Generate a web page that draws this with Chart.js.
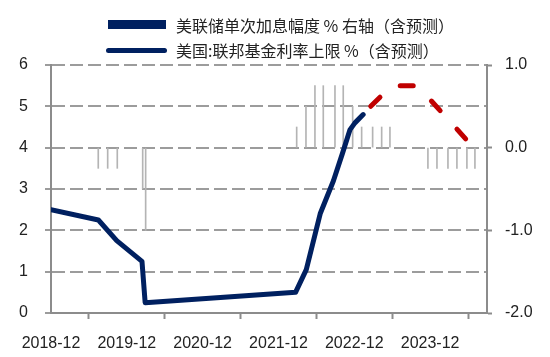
<!DOCTYPE html>
<html><head><meta charset="utf-8">
<script src="https://cdn.jsdelivr.net/npm/chart.js@4"></script>
<style>
html,body{margin:0;padding:0;background:#fff;}
#wrap{position:relative;width:550px;height:357px;overflow:hidden;}
#c{position:absolute;left:0;top:0;}
.lgt{position:absolute;left:176px;font-family:"Noto Sans CJK SC";font-size:16px;color:#222;white-space:nowrap;line-height:20px;}
.sym{position:absolute;background:#002060;}
</style></head><body>
<div id="wrap">
<canvas id="c" width="550" height="357"></canvas>
<div id="legend"></div>
</div>
<script>
// Series names
const seriesNames = ['美联储单次加息幅度 % 右轴（含预测）', '美国:联邦基金利率上限 %（含预测）'];
// x tick labels (one per 12 months, x counted in months from 2018-12)
const xTickLabels = ['2018-12','2019-12','2020-12','2021-12','2022-12','2023-12'];
// Fed funds upper bound (actual) – months from 2018-12, value %
const rateMonths = [0, 7.5, 10.4, 14.4, 14.9, 38.7, 40.4, 42.6, 44.7, 46.1, 47.3, 48.1, 49.4];
const rateValues = [2.5, 2.25, 1.75, 1.25, 0.25, 0.5, 1.05, 2.4, 3.2, 3.85, 4.43, 4.6, 4.8];
// Fed funds upper bound (forecast)
const forecastMonths = [50.6, 53.9, 58.0, 66.3];
const forecastValues = [5.0, 5.5, 5.5, 4.1];
// Single move size (right axis)
const moveMonths = [7.48, 8.97, 10.49, 14.51, 14.98, 38.88, 40.35, 41.77, 43.09, 44.94, 46.25, 47.74, 49.16, 50.9, 52.33, 53.64, 59.65, 61.08, 62.82, 64.24, 65.82, 67.09];
const moveValues = [-0.25, -0.25, -0.25, -0.5, -1.0, 0.25, 0.5, 0.75, 0.75, 0.75, 0.75, 0.5, 0.25, 0.25, 0.25, 0.25, -0.25, -0.25, -0.25, -0.25, -0.25, -0.25];

const NAVY = '#002060';
const RED = '#c00000';
const AXIS = '#8c8c8c';
const GRID = '#9c9c9c';
const TICKFONT = {family: 'Liberation Sans', size: 16};

const pts = (xs, ys) => xs.map((x, i) => ({x: x, y: ys[i]}));

// HTML legend
const lg = document.getElementById('legend');
lg.innerHTML =
  '<div class="sym" style="left:108px;top:20px;width:58px;height:9px;"></div>' +
  '<div class="lgt" style="top:15px">' + seriesNames[0] + '</div>' +
  '<div class="sym" style="left:106px;top:48px;width:61px;height:5px;border-radius:3px;"></div>' +
  '<div class="lgt" style="top:40px">' + seriesNames[1] + '</div>';

new Chart(document.getElementById('c'), {
  type: 'line',
  data: {
    datasets: [
      {
        type: 'bar', label: seriesNames[0], yAxisID: 'y2',
        data: pts(moveMonths, moveValues),
        backgroundColor: '#b4b4b4', borderWidth: 0,
        barThickness: 1, grouped: false, order: 3
      },
      {
        type: 'line', label: seriesNames[1], yAxisID: 'y',
        data: pts(rateMonths, rateValues),
        borderColor: NAVY, borderWidth: 5, pointRadius: 0, tension: 0,
        borderJoinStyle: 'round', borderCapStyle: 'round', order: 1
      },
      {
        type: 'line', label: seriesNames[1] + ' 预测', yAxisID: 'y',
        data: pts(forecastMonths, forecastValues),
        borderColor: RED, borderWidth: 5, pointRadius: 0, tension: 0,
        borderDash: [13, 25], borderCapStyle: 'round', borderJoinStyle: 'round', order: 2
      }
    ]
  },
  options: {
    responsive: false,
    animation: false,
    devicePixelRatio: 1,
    layout: {padding: {top: 65, left: 0, right: 0, bottom: 0}},
    plugins: {legend: {display: false}, tooltip: {enabled: false}},
    scales: {
      x: {
        type: 'linear', min: 0, max: 69, offset: false,
        afterFit: s => { s.height = 44; },
        ticks: {
          stepSize: 12, autoSkip: false, maxRotation: 0, includeBounds: false,
          padding: 15, color: '#222', font: TICKFONT,
          callback: v => xTickLabels[Math.round(v / 12)] || ''
        },
        grid: {drawOnChartArea: false, drawTicks: true, tickLength: 6, tickColor: AXIS, tickWidth: 2},
        border: {display: true, color: AXIS, width: 2}
      },
      y: {
        position: 'left', min: 0, max: 6,
        afterFit: s => { s.width = 51; },
        ticks: {stepSize: 1, padding: 17, color: '#222', font: TICKFONT},
        grid: {color: GRID, lineWidth: 2, drawTicks: true, tickLength: 6, tickColor: GRID, tickWidth: 2},
        border: {display: true, color: AXIS, width: 2, dash: [13, 5]}
      },
      y2: {
        position: 'right', min: -2, max: 1,
        afterFit: s => { s.width = 63; },
        ticks: {stepSize: 1, padding: 13, color: '#222', font: TICKFONT, callback: v => Number(v).toFixed(1)},
        grid: {drawOnChartArea: false, drawTicks: true, tickLength: 5, tickColor: AXIS, tickWidth: 2},
        border: {display: true, color: AXIS, width: 2}
      }
    }
  }
});
</script>
</body></html>
